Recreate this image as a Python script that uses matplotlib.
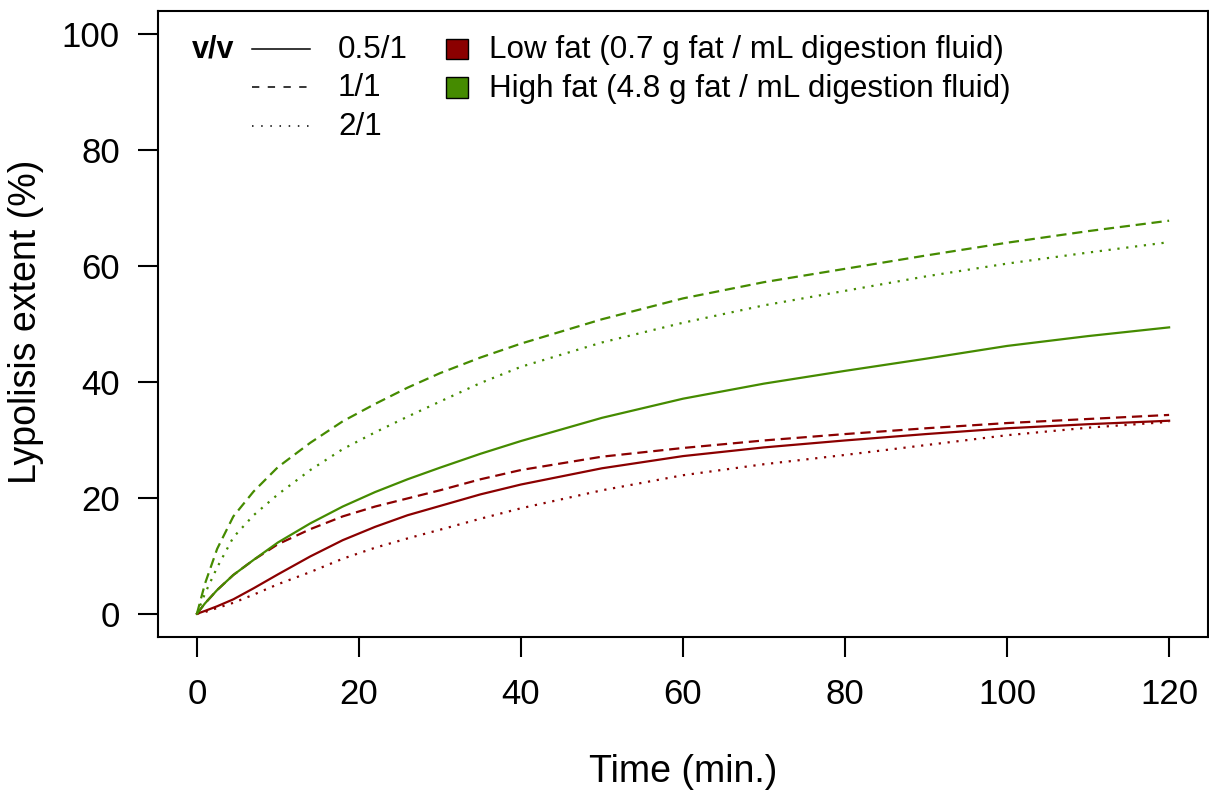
import matplotlib
matplotlib.use("Agg")
import matplotlib.pyplot as plt
from matplotlib.lines import Line2D
from matplotlib.patches import Rectangle

plt.rcParams['font.family'] = ['Liberation Sans', 'DejaVu Sans']

# time points (min.)
time = [0, 1, 2.5, 4.5, 7, 10, 14, 18, 22, 26, 30, 35, 40, 50, 60, 70, 80, 90, 100, 110, 120]

# lypolysis extent (%)
hf_05 = [0, 1.8, 4.1, 6.7, 9.3, 12.3, 15.6, 18.5, 21.0, 23.2, 25.2, 27.6, 29.8, 33.8, 37.1,
         39.7, 41.9, 44.0, 46.2, 47.9, 49.4]
hf_1 = [0, 5.2, 11.2, 16.8, 21.1, 25.3, 29.5, 33.2, 36.2, 39.0, 41.5, 44.2, 46.6, 50.8, 54.4,
        57.2, 59.5, 61.8, 64.0, 66.0, 67.8]
hf_2 = [0, 3.5, 8.0, 13.2, 17.0, 20.6, 24.8, 28.4, 31.3, 34.0, 36.6, 39.8, 42.6, 46.8, 50.2,
        53.2, 55.7, 58.2, 60.4, 62.3, 64.1]
lf_05 = [0, 0.5, 1.3, 2.5, 4.4, 6.8, 9.9, 12.7, 15.0, 17.0, 18.6, 20.6, 22.3, 25.1, 27.2,
         28.7, 29.9, 31.0, 32.0, 32.7, 33.3]
lf_1 = [0, 1.8, 4.1, 6.7, 9.3, 12.0, 14.6, 16.8, 18.5, 19.9, 21.3, 23.2, 24.8, 27.1, 28.6,
        29.9, 31.0, 32.0, 32.9, 33.6, 34.3]
lf_2 = [0, 0.3, 1.0, 1.9, 3.3, 5.1, 7.2, 9.5, 11.4, 13.0, 14.5, 16.4, 18.2, 21.3, 23.9,
        25.8, 27.4, 29.1, 30.8, 32.1, 33.1]

ratios = ['0.5/1', '1/1', '2/1']
groups = ['Low fat (0.7 g fat / mL digestion fluid)', 'High fat (4.8 g fat / mL digestion fluid)']

red = '#8B0000'
green = '#458B00'
dash = (0, (4.6, 2.6))
dot = (0, (1, 3))

W, H = 1209, 794
fig = plt.figure(figsize=(W / 100, H / 100), dpi=100)
ax = fig.add_axes([158 / W, 1 - 637 / H, 1050 / W, 626.2 / H])

lw = 1.6
ax.plot(time, lf_05, color=red, lw=lw, ls='-')
ax.plot(time, lf_1, color=red, lw=lw, ls=dash)
ax.plot(time, lf_2, color=red, lw=lw, ls=dot)
ax.plot(time, hf_05, color=green, lw=lw, ls='-')
ax.plot(time, hf_1, color=green, lw=lw, ls=dash)
ax.plot(time, hf_2, color=green, lw=lw, ls=dot)

ax.set_xlim(-4.8, 124.8)
ax.set_ylim(-4, 104)
ax.set_xticks(range(0, 121, 20))
ax.set_yticks(range(0, 101, 20))
for s in ax.spines.values():
    s.set_linewidth(1.5)
ax.tick_params(axis='both', length=14.4, width=1.5, labelsize=25)
ax.tick_params(axis='x', pad=15)
ax.tick_params(axis='y', pad=13)


def fx(px):
    return px / W


def fy(py):
    return 1 - py / H


fig.text(fx(683), fy(772), 'Time (min.)', fontsize=27, ha='center', va='center')
fig.text(fx(26), fy(322), 'Lypolisis extent (%)', fontsize=27, ha='center', va='center',
         rotation=90)

# legend drawn by hand, R style
rows = [50, 88.5, 127]
fig.text(fx(192), fy(rows[0]), 'v/v', fontsize=22, fontweight='bold', ha='left', va='center')
for r, lab, st in zip(rows, ratios, ['-', (0, (4.8, 5.5)), (0, (1, 5))]):
    fig.add_artist(Line2D([fx(252), fx(310)], [fy(r - 1.5), fy(r - 1.5)], transform=fig.transFigure,
                          color='black', lw=1.1, ls=st))
    fig.text(fx(338), fy(r), lab, fontsize=22.6, ha='left', va='center')

for r, lab, c in zip(rows[:2], groups, [red, green]):
    fig.add_artist(Rectangle((fx(446), fy(r + 9)), 22 / W, 20 / H, transform=fig.transFigure,
                             facecolor=c, edgecolor='black', lw=1.0))
    fig.text(fx(489), fy(r), lab, fontsize=22.6, ha='left', va='center')

fig.savefig('out.png', dpi=100)
